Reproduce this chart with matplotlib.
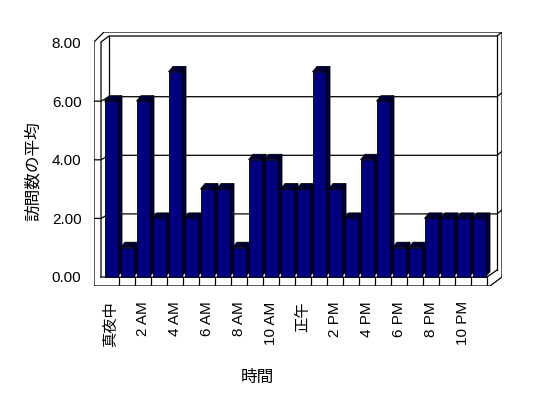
import numpy as np
import matplotlib
matplotlib.use("Agg")
import matplotlib.pyplot as plt
from matplotlib.patches import Polygon, Rectangle

plt.rcParams['font.family'] = ['Liberation Sans', 'Noto Sans CJK JP', 'DejaVu Sans']

# data
hours = ['真夜中', '1 AM', '2 AM', '3 AM', '4 AM', '5 AM', '6 AM', '7 AM',
         '8 AM', '9 AM', '10 AM', '11 AM', '正午', '1 PM', '2 PM', '3 PM',
         '4 PM', '5 PM', '6 PM', '7 PM', '8 PM', '9 PM', '10 PM', '11 PM']
visits = [6, 1, 6, 2, 7, 2, 3, 3, 1, 4, 4, 3, 3, 7, 3, 2, 4, 6, 1, 1, 2, 2, 2, 2]
y_ticks = [0, 2, 4, 6, 8]

W, H = 548, 398
fig = plt.figure(figsize=(W / 100, H / 100), dpi=100)

# pixel frame of the plot box (left, right, top, bottom)
L, R, T, B = 94, 502, 32, 286
ax = fig.add_axes([L / W, 1 - B / H, (R - L) / W, (B - T) / H])

# pixel <-> data helpers (x: 16 px per category, y: 29.3 px per unit)
def cx(px):
    return (px - 111) / 16.0

def vy(py):
    return (277 - py) / 29.3

ax.set_xlim(cx(L), cx(R))
ax.set_ylim(vy(B), vy(T))
for s in ax.spines.values():
    s.set_visible(False)

lw = 0.9
k = 'black'

def line(pts, z=1):
    xs = [cx(p[0]) for p in pts]
    ys = [vy(p[1]) for p in pts]
    ax.plot(xs, ys, color=k, lw=lw, zorder=z, solid_joinstyle='miter')

# walls / frame
outer = [(94, 286), (94, 42), (104, 32), (502, 32), (502, 277), (490, 286)]
ax.add_patch(Polygon([(cx(x), vy(y)) for x, y in outer], closed=True,
                     facecolor='white', edgecolor=k, lw=lw, zorder=0))
line([(101, 277), (101, 42), (109, 36), (497, 36), (502, 32)])
line([(109, 36), (109, 272)])
line([(497, 36), (497, 270)])
line([(101, 277), (487, 277), (497, 270)])
line([(487, 277), (487, 286)])
for i in range(1, 24):
    px = 103 + 16 * i
    line([(px, 277), (px, 286)])

# gridlines on back wall and side walls
for t in y_ticks[1:-1]:
    g = 277 - t * 29.3
    line([(94, g), (101, g), (109, g - 4.5)])
    line([(109, g - 4.5), (497, g - 4.5), (502, g - 8.5)])

# 3D bars
half = 6.5 / 16
dx = 4.5 / 16
dy = 5.5 / 29.3
front = '#000080'
shade = '#000038'
for i, v in enumerate(visits):
    z = 2 + i * 0.01
    xr = i + half
    ax.add_patch(Polygon([(xr, 0), (xr + dx, dy), (xr + dx, v + dy), (xr, v)],
                         closed=True, facecolor=shade, edgecolor=k, lw=0.6, zorder=z))
    ax.add_patch(Polygon([(i - half, v), (xr, v), (xr + dx, v + dy), (i - half + dx, v + dy)],
                         closed=True, facecolor=shade, edgecolor=k, lw=0.6, zorder=z))
    ax.add_patch(Rectangle((i - half, 0), 2 * half, v, facecolor=front,
                           edgecolor=k, lw=0.6, zorder=z + 0.005))

# ticks
ax.set_yticks(y_ticks)
ax.set_yticklabels(['{:.2f}'.format(t) for t in y_ticks])
ax.set_xticks(range(0, 24, 2))
ax.set_xticklabels(hours[::2], rotation=90)
ax.tick_params(axis='y', length=0, pad=9, labelsize=11)
ax.tick_params(axis='x', length=0, pad=11, labelsize=11)

fig.text(257 / W, 1 - 377 / H, '時間', ha='center', va='center', fontsize=12)
fig.text(33 / W, 1 - 171 / H, '訪問数の平均', ha='center', va='center',
         rotation=90, fontsize=12)

fig.savefig('out.png', dpi=100, facecolor='white')
